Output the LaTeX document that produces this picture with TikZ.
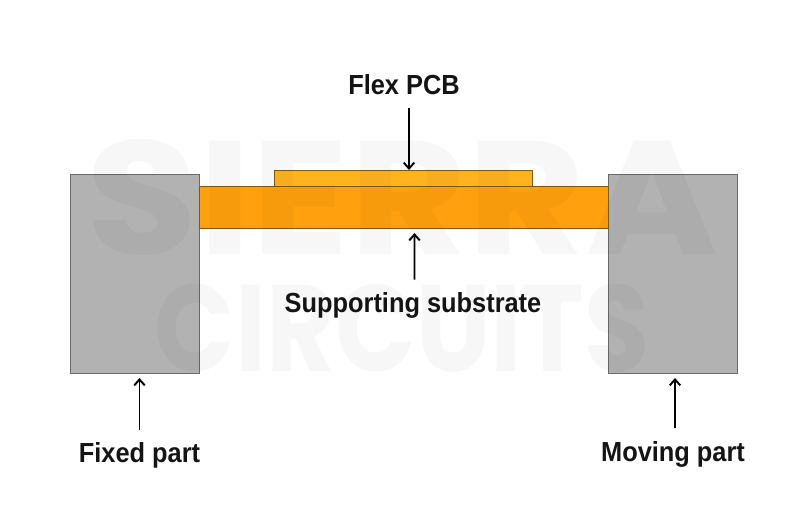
\documentclass[tikz,border=0pt]{standalone}
\usepackage{fontspec}
\setmainfont{Liberation Sans}
\newfontfamily\labelfont[FakeStretch=0.92]{Liberation Sans}
\newfontfamily\brandfont{Poppins}
\usetikzlibrary{arrows.meta,positioning}
\definecolor{partgray}{RGB}{178,178,178}
\definecolor{partedge}{RGB}{105,105,105}
\definecolor{substrate}{RGB}{255,161,14}
\definecolor{flex}{RGB}{255,179,30}
\definecolor{orangeedge}{RGB}{125,90,10}

\begin{document}
\begin{tikzpicture}[x=0.02cm,y=-0.02cm,% one unit is one pixel of the drawing
					every node/.style={
						align=center,
						inner sep=0pt,
						outer sep=0pt
						},
					part/.style={rectangle,draw=partedge,fill=partgray,line width=0.5pt,minimum width=2.58cm,minimum height=3.98cm},
					layer/.style={rectangle,draw=orangeedge,line width=0.5pt},
					tag/.style={font=\labelfont\bfseries\fontsize{15.7pt}{18pt}\selectfont,text=black!92},
					brandmark/.style={text=black,opacity=0.032,transform shape},
					every edge/.style={draw,line width=0.9pt,-{Straight Barb[length=3.4pt,width=6pt,line width=1.1pt]}}
					]
\useasboundingbox (0,0) rectangle (800,511);
\node[part](Fixed) at (134.5,273.5){};
\node[part](Moving) at (672.5,273.5){};
\node[layer,fill=substrate,minimum width=8.18cm,minimum height=0.84cm](Substrate) at (403.5,207){};
\node[layer,fill=flex,minimum width=5.16cm,minimum height=0.32cm,above=0pt of Substrate](Flex){};
% faint marks behind the labels
\node[brandmark,xscale=1.12,font=\brandfont\bfseries\fontsize{92pt}{92pt}\selectfont](MarkTop) at (403,197.5){SIERRA};
\node[brandmark,xscale=0.86,font=\brandfont\bfseries\fontsize{70pt}{70pt}\selectfont](MarkBottom) at (402,328.5){CIRCUITS};
\node[tag](FlexTag) at (404,85){Flex PCB};
\node[tag](SubstrateTag) at (413,305){Supporting substrate};
\node[tag](FixedTag) at (139.5,455){Fixed part};
\node[tag](MovingTag) at (673,454){Moving part};
\path
([xshift=0.1cm,yshift=-0.26cm]FlexTag.south)edge (Flex.north -| 409,0)
([xshift=0.03cm,yshift=0.25cm]SubstrateTag.north)edge ([yshift=-0.1cm]Substrate.south -| 414.5,0)
([yshift=0.24cm]FixedTag.north)edge ([yshift=-0.1cm]Fixed.south -| 139.5,0)
([xshift=0.04cm,yshift=0.26cm]MovingTag.north)edge ([yshift=-0.1cm]Moving.south -| 675,0)
;
\end{tikzpicture}
\end{document}
